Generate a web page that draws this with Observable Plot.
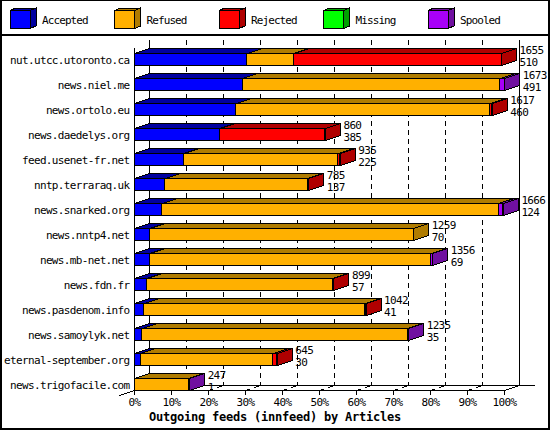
<!DOCTYPE html>
<html><head><meta charset="utf-8">
<script src="https://cdn.jsdelivr.net/npm/d3@7"></script>
<script src="https://cdn.jsdelivr.net/npm/@observablehq/plot@0.6"></script>
<style>
html,body{margin:0;padding:0;background:#fff;}
#wrap{position:relative;width:550px;height:430px;background:#fff;overflow:hidden;}
#legend{position:absolute;left:0;top:0;}
#plot{position:absolute;left:0;top:36px;}
#plot svg text{letter-spacing:-0.65px;}
#caption{position:absolute;left:0;top:410px;width:550px;height:14px;line-height:14px;text-align:center;font:bold 12px "DejaVu Sans Mono";letter-spacing:-0.22px;color:#000;}
#frame{position:absolute;left:0;top:0;width:550px;height:430px;box-sizing:border-box;border:2px solid #000;border-top-width:1px;pointer-events:none;}
</style></head><body>
<div id="wrap"><div id="legend"></div><div id="plot"></div><div id="caption"></div><div id="frame"></div></div>
<script>
// ---- data ----
const categories = ["nut.utcc.utoronto.ca","news.niel.me","news.ortolo.eu","news.daedelys.org","feed.usenet-fr.net","nntp.terraraq.uk","news.snarked.org","news.nntp4.net","news.mb-net.net","news.fdn.fr","news.pasdenom.info","news.samoylyk.net","eternal-september.org","news.trigofacile.com"];
const accepted = [30.5, 29.3, 27.5, 23.1, 13.4, 8.3, 7.5, 4.2, 4.2, 3.4, 2.6, 2.1, 1.7, 0];
const refused  = [12.6, 69.6, 68.7, 0, 41.7, 38.6, 91.0, 71.3, 76.0, 50.2, 59.8, 71.8, 35.8, 14.7];
const rejected = [56.1, 0, 0.5, 28.5, 0.5, 0.2, 0, 0, 0, 0.3, 0.2, 0, 1.1, 0];
const missing  = [0, 0, 0, 0, 0, 0, 0, 0, 0, 0, 0, 0, 0, 0];
const spooled  = [0, 1.2, 0, 0, 0, 0, 1.2, 0, 0.4, 0, 0, 0.2, 0, 0.2];
const offered  = [1655, 1673, 1617, 860, 935, 785, 1666, 1259, 1356, 899, 1042, 1235, 645, 247];
const secondValue = [510, 491, 460, 385, 225, 137, 124, 70, 69, 57, 41, 35, 30, 1];
const statusNames = ["Accepted","Refused","Rejected","Missing","Spooled"];
const frontColors = ["#0000ff","#ffb000","#ff0000","#00ff00","#a800f8"];
const darkColors  = ["#0000a0","#b07c00","#b00000","#00a000","#7010a0"];
const xTicks = [0,10,20,30,40,50,60,70,80,90,100];
const captionText = "Outgoing feeds (innfeed) by Articles";

// ---- geometry (pixel styles converted to data units) ----
const PX_X = 3.7, PX_Y = 25;
const DX = 15 / PX_X, DY = -5 / PX_Y, H = 6 / PX_Y;
const lastRow = categories.length - 1;
const floorFront = lastRow + H, floorBack = floorFront + DY, tickLow = floorFront + 5 / PX_Y;
const axisTop = -H + DY, wallTop = axisTop - 8 / PX_Y;
const X0 = xTicks[0], X1 = xTicks[xTicks.length - 1];

const series = [accepted, refused, rejected, missing, spooled];
const segs = [], tops = [], sides = [], rows = [];
categories.forEach((name, i) => {
  let cum = 0, last = null;
  series.forEach((vals, s) => {
    const v = vals[i];
    if (v > 0) {
      const seg = {i, s, x1: cum, x2: cum + v, fill: frontColors[s], dark: darkColors[s]};
      segs.push(seg); last = seg; cum += v;
      const id = "t" + i + "-" + s, yt = i - H;
      [[seg.x1, yt],[seg.x2, yt],[seg.x2 + DX, yt + DY],[seg.x1 + DX, yt + DY],[seg.x1, yt]]
        .forEach(([x, y]) => tops.push({id, x, y, fill: seg.dark}));
    }
  });
  if (last) {
    const id = "s" + i, yt = i - H, yb = i + H, x = last.x2;
    [[x, yt],[x + DX, yt + DY],[x + DX, yb + DY],[x, yb],[x, yt]]
      .forEach(([px, py]) => sides.push({id, x: px, y: py, fill: last.dark}));
  }
  rows.push({i, name, total: cum, offered: String(offered[i]), second: String(secondValue[i])});
});
const inner = xTicks.slice(1, -1);
const floorLines = [
  {x1: X0, y1: floorFront, x2: X1, y2: floorFront},
  {x1: X0 + DX, y1: floorBack, x2: X1 + 2 * DX, y2: floorBack},
  {x1: X0 - DX, y1: tickLow, x2: X0 + DX, y2: floorBack},
  {x1: X1, y1: floorFront, x2: X1 + DX, y2: floorBack}
];

const chart = Plot.plot({
  width: 550, height: 372,
  marginLeft: 134, marginRight: 46, marginTop: 0, marginBottom: 0,
  x: {domain: [X0, X1], range: [134, 504], axis: null},
  y: {domain: [0, lastRow], range: [23, 348], axis: null},
  color: {type: "identity"},
  style: {fontFamily: "DejaVu Sans Mono", fontSize: "11px", background: "white", overflow: "visible", color: "black"},
  marks: [
    Plot.ruleX(inner, {x: d => d + DX, y1: wallTop, y2: floorBack, stroke: "black", strokeDasharray: "5,4"}),
    Plot.ruleX([X0, X1], {x: d => d + DX, y1: wallTop, y2: floorBack, stroke: "black"}),
    Plot.link(inner, {x1: d => d, y1: floorFront, x2: d => d + DX, y2: floorBack, stroke: "black", strokeDasharray: "5,4"}),
    Plot.link(floorLines, {x1: "x1", y1: "y1", x2: "x2", y2: "y2", stroke: "black"}),
    Plot.ruleX(xTicks, {x: d => d, y1: floorFront, y2: tickLow, stroke: "black"}),
    Plot.ruleX([X0], {x: d => d, y1: axisTop, y2: floorFront, stroke: "black"}),
    Plot.line(tops, {x: "x", y: "y", z: "id", fill: "fill", stroke: "black", strokeWidth: 1, curve: "linear"}),
    Plot.rect(segs, {x1: "x1", x2: "x2", y1: d => d.i - H, y2: d => d.i + H, fill: "fill", stroke: "black", strokeWidth: 1}),
    Plot.line(sides, {x: "x", y: "y", z: "id", fill: "fill", stroke: "black", strokeWidth: 1, curve: "linear"}),
    Plot.text(rows, {x: () => X0, y: "i", text: "name", textAnchor: "end", dx: -5, dy: 1, fill: "black"}),
    Plot.text(rows, {x: "total", y: "i", text: "offered", textAnchor: "start", dx: 18, dy: -9, fill: "black"}),
    Plot.text(rows, {x: "total", y: "i", text: "second", textAnchor: "start", dx: 18, dy: 2.5, fill: "black"}),
    Plot.text(xTicks, {x: d => d, y: () => floorFront, text: d => d + "%", dy: 12, fill: "black"})
  ]
});
chart.style.shapeRendering = "crispEdges";
document.getElementById("plot").appendChild(chart);
document.getElementById("caption").textContent = captionText;

// ---- legend ----
const lg = d3.select("#legend").append("svg").attr("width", 550).attr("height", 36)
  .style("font-family", "DejaVu Sans Mono").style("font-size", "11px").attr("shape-rendering", "crispEdges");
lg.append("line").attr("x1", 0).attr("x2", 550).attr("y1", 35).attr("y2", 35).attr("stroke", "#000").attr("stroke-width", 1.5);
statusNames.forEach((n, j) => {
  const x0 = 10 + 104.5 * j, y0 = 10.5, w = 20, h = 18, dx = 6, dy = -2.5;
  const g = lg.append("g").attr("stroke", "#000").attr("stroke-width", 1);
  g.append("polygon").attr("points", [[x0, y0],[x0 + w, y0],[x0 + w + dx, y0 + dy],[x0 + dx, y0 + dy]].join(" ")).attr("fill", darkColors[j]);
  g.append("polygon").attr("points", [[x0 + w, y0],[x0 + w + dx, y0 + dy],[x0 + w + dx, y0 + h + dy],[x0 + w, y0 + h]].join(" ")).attr("fill", darkColors[j]);
  g.append("rect").attr("x", x0).attr("y", y0).attr("width", w).attr("height", h).attr("fill", frontColors[j]);
  lg.append("text").attr("x", x0 + 32).attr("y", 24).attr("letter-spacing", "-0.9px").text(n);
});
</script>
</body></html>
